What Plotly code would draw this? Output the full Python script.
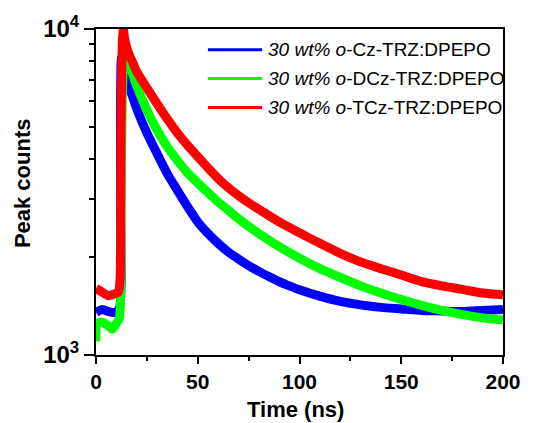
import plotly.graph_objects as go

# ---- data ----
t_blue = [0, 3, 6, 9, 11.3, 12, 12.6, 13.5, 15, 18, 20, 25, 30, 35, 40, 45, 50, 55, 60, 65, 70, 75, 80,
          85, 90, 95, 100, 110, 120, 130, 140, 150, 160, 170, 180, 190, 200]
y_blue = [1350, 1380, 1360, 1350, 1380, 3000, 8200, 7800, 7000, 6200, 5700, 4800, 4150, 3600, 3200, 2850,
          2560, 2360, 2200, 2070, 1970, 1880, 1805, 1740, 1680, 1630, 1585, 1515, 1460, 1425, 1400, 1385,
          1370, 1365, 1360, 1370, 1380]

t_green = [0, 0.5, 3, 6, 8, 10, 11.5, 12.3, 13, 14, 14.5, 15.5, 18, 20, 25, 30, 35, 40, 45, 50, 55, 60,
           65, 70, 75, 80, 90, 100, 110, 120, 130, 140, 150, 160, 170, 180, 190, 200]
y_green = [1100, 1250, 1260, 1230, 1200, 1250, 1300, 3000, 6500, 8500, 8800, 8300, 7300, 6700, 5650,
           4900, 4350, 3950, 3620, 3370, 3150, 2950, 2780, 2620, 2480, 2360, 2150, 1980, 1840, 1730,
           1630, 1550, 1480, 1420, 1370, 1330, 1300, 1280]

t_red = [0, 3, 6, 9, 11, 11.8, 12.3, 13, 13.5, 14, 15.5, 18, 20, 25, 30, 35, 40, 45, 50, 55, 60, 65,
         70, 75, 80, 90, 100, 110, 120, 130, 140, 150, 160, 170, 180, 190, 200]
y_red = [1600, 1560, 1520, 1540, 1560, 1700, 5000, 9300, 10000, 9400, 8600, 7900, 7400, 6600, 5900,
         5300, 4800, 4400, 4060, 3750, 3480, 3260, 3080, 2930, 2800, 2560, 2370, 2200, 2050, 1930,
         1840, 1760, 1680, 1630, 1590, 1550, 1530]

series_names = ["<i>30 wt% o</i>-Cz-TRZ:DPEPO",
                "<i>30 wt% o</i>-DCz-TRZ:DPEPO",
                "<i>30 wt% o</i>-TCz-TRZ:DPEPO"]
series_colors = ["#0000ff", "#00ff00", "#ff0000"]

x_ticks = [0, 50, 100, 150, 200]
y_ticks = [1000, 10000]
y_ticktext = ["10<sup>3</sup>", "10<sup>4</sup>"]
y_minor = [2000, 3000, 4000, 5000, 6000, 7000, 8000, 9000]

FONT = "Arial, Liberation Sans, sans-serif"

fig = go.Figure()
for t, y, c in zip([t_blue, t_green, t_red], [y_blue, y_green, y_red], series_colors):
    fig.add_trace(go.Scatter(x=t, y=y, mode="lines", line=dict(color=c, width=9, shape="spline", smoothing=0.7),
                             showlegend=False, hoverinfo="skip"))

# manual legend (lines + text)
leg_y = [0.936, 0.848, 0.759]
shapes = []
annotations = []
for name, c, yy in zip(series_names, series_colors, leg_y):
    shapes.append(dict(type="line", xref="paper", yref="paper", x0=0.275, x1=0.408, y0=yy, y1=yy,
                       line=dict(color=c, width=3)))
    annotations.append(dict(xref="paper", yref="paper", x=0.418, y=yy, xanchor="left", yanchor="middle",
                            text=name, showarrow=False,
                            font=dict(family=FONT, size=19, color="black")))

annotations.append(dict(xref="paper", yref="paper", x=0.49, y=-0.122, xanchor="center", yanchor="top",
                        text="<b>Time (ns)</b>", showarrow=False,
                        font=dict(family=FONT, size=22, color="black")))
annotations.append(dict(xref="paper", yref="paper", x=-0.182, y=0.527, xanchor="center", yanchor="middle",
                        text="<b>Peak counts</b>", textangle=-90, showarrow=False,
                        font=dict(family=FONT, size=22, color="black")))

fig.update_layout(
    width=536, height=423,
    margin=dict(l=96, r=33, t=27, b=68),
    paper_bgcolor="white", plot_bgcolor="white",
    shapes=shapes, annotations=annotations,
    xaxis=dict(range=[0, 200], tickvals=x_ticks, ticks="outside", ticklen=7, tickwidth=2,
               tickcolor="black", showline=True, linewidth=2, linecolor="black", mirror=True,
               showgrid=False, zeroline=False,
               tickfont=dict(family=FONT, size=21, color="black", weight="bold"),
               minor=dict(dtick=25, tick0=0, ticks="outside", ticklen=4, tickwidth=2, tickcolor="black",
                          showgrid=False)),
    yaxis=dict(type="log", range=[3, 4], tickvals=y_ticks, ticktext=y_ticktext, ticks="outside",
               ticklen=10, tickwidth=2, tickcolor="black", showline=True, linewidth=2, linecolor="black",
               mirror=True, showgrid=False, zeroline=False,
               tickfont=dict(family=FONT, size=24, color="black", weight="bold"),
               minor=dict(tickvals=y_minor, ticks="outside", ticklen=5, tickwidth=2, tickcolor="black",
                          showgrid=False)),
)

fig.write_html("out.html")
